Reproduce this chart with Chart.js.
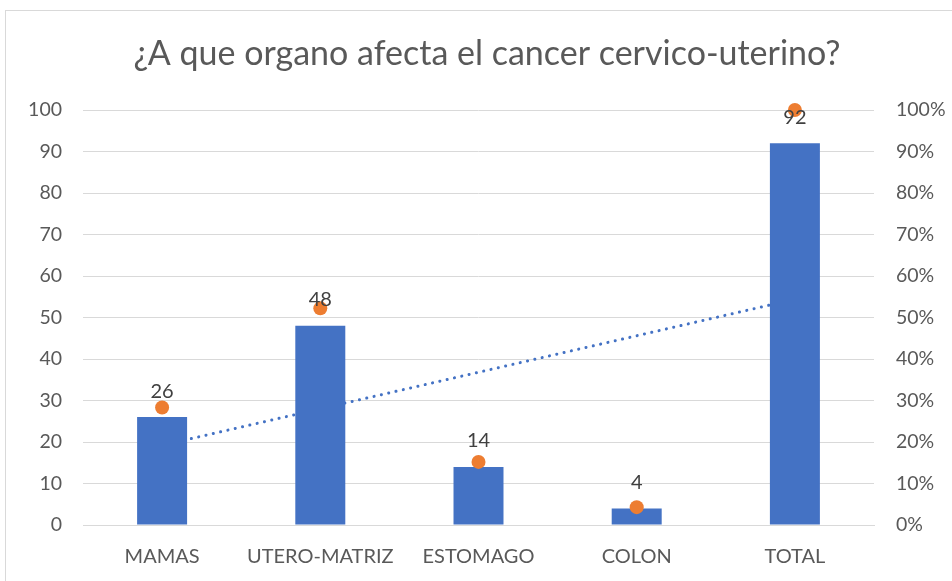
<!DOCTYPE html>
<html>
<head>
<meta charset="utf-8">
<script src="https://cdn.jsdelivr.net/npm/chart.js@4.4.1/dist/chart.umd.min.js"></script>
<style>
  html, body { margin: 0; padding: 0; background: #fff; width: 952px; height: 581px; overflow: hidden; }
  #frame { position: absolute; left: 5px; top: 10px; width: 1000px; height: 1000px; border: 1px solid #d9d9d9; box-sizing: border-box; }
  #wrap { position: absolute; left: 0; top: 0; width: 952px; height: 581px; }
</style>
</head>
<body>
<div id="frame"></div>
<div id="wrap"><canvas id="c" width="952" height="581"></canvas></div>
<script>
const categories = ["MAMAS", "UTERO-MATRIZ", "ESTOMAGO", "COLON", "TOTAL"];
const counts = [26, 48, 14, 4, 92];
const percents = [28.3, 52.2, 15.2, 4.3, 100];
const trendValues = [19.2, 28.0, 36.8, 45.6, 54.4];
const leftTicks = [0, 10, 20, 30, 40, 50, 60, 70, 80, 90, 100];
const rightTicks = [0, 10, 20, 30, 40, 50, 60, 70, 80, 90, 100];
const titleText = "¿A que organo afecta el cancer cervico-uterino?";

const FONT = "Lato, 'Open Sans', sans-serif";
const GREY = "#595959";

const titlePlugin = {
  id: "titleDraw",
  afterDraw(chart) {
    const ctx = chart.ctx;
    ctx.save();
    ctx.font = "34px " + FONT;
    ctx.fillStyle = GREY;
    ctx.textAlign = "center";
    ctx.textBaseline = "middle";
    ctx.fillText(titleText, 487, 54);
    ctx.restore();
  }
};

const labelPlugin = {
  id: "barLabels",
  afterDatasetsDraw(chart) {
    const meta = chart.getDatasetMeta(1);
    const ctx = chart.ctx;
    ctx.save();
    ctx.font = "20px " + FONT;
    ctx.fillStyle = "#404040";
    ctx.textAlign = "center";
    ctx.textBaseline = "middle";
    meta.data.forEach((bar, i) => {
      ctx.fillText(String(counts[i]), bar.x, bar.y - 26);
    });
    ctx.restore();
  }
};

new Chart(document.getElementById("c"), {
  data: {
    labels: categories,
    datasets: [
      {
        type: "line",
        data: trendValues,
        yAxisID: "y",
        borderColor: "#4472C4",
        borderWidth: 3,
        borderDash: [0.1, 7.4],
        borderCapStyle: "round",
        pointRadius: 0,
        fill: false,
        order: 3
      },
      {
        type: "bar",
        data: counts,
        yAxisID: "y",
        backgroundColor: "#4472C4",
        barPercentage: 0.316,
        categoryPercentage: 1,
        order: 2
      },
      {
        type: "line",
        data: percents,
        yAxisID: "y1",
        showLine: false,
        pointRadius: 7,
        pointHoverRadius: 7,
        pointBackgroundColor: "#ED7D31",
        pointBorderColor: "#ED7D31",
        pointBorderWidth: 0,
        clip: false,
        order: 1
      }
    ]
  },
  options: {
    responsive: false,
    animation: false,
    events: [],
    layout: { padding: { top: 110, bottom: 0, left: 0, right: 0 } },
    plugins: { legend: { display: false }, title: { display: false }, tooltip: { enabled: false } },
    scales: {
      x: {
        grid: { display: false },
        border: { display: true, color: "#d9d9d9" },
        ticks: { color: GREY, font: { family: FONT, size: 20 }, padding: 12, maxRotation: 0, autoSkip: false },
        afterFit(s) { s.height = 56; }
      },
      y: {
        position: "left",
        min: 0, max: 100,
        afterBuildTicks(s) { s.ticks = leftTicks.map(v => ({ value: v })); },
        grid: { color: "#d9d9d9", drawTicks: false },
        border: { display: false },
        ticks: { color: GREY, font: { family: FONT, size: 19.5 }, padding: 21 },
        afterFit(s) { s.width = 83; }
      },
      y1: {
        position: "right",
        min: 0, max: 100,
        afterBuildTicks(s) { s.ticks = rightTicks.map(v => ({ value: v })); },
        grid: { display: false, drawTicks: false },
        border: { display: false },
        ticks: { color: GREY, font: { family: FONT, size: 19.5 }, padding: 22, callback: v => v + "%" },
        afterFit(s) { s.width = 78; }
      }
    }
  },
  plugins: [titlePlugin, labelPlugin]
});
</script>
</body>
</html>
